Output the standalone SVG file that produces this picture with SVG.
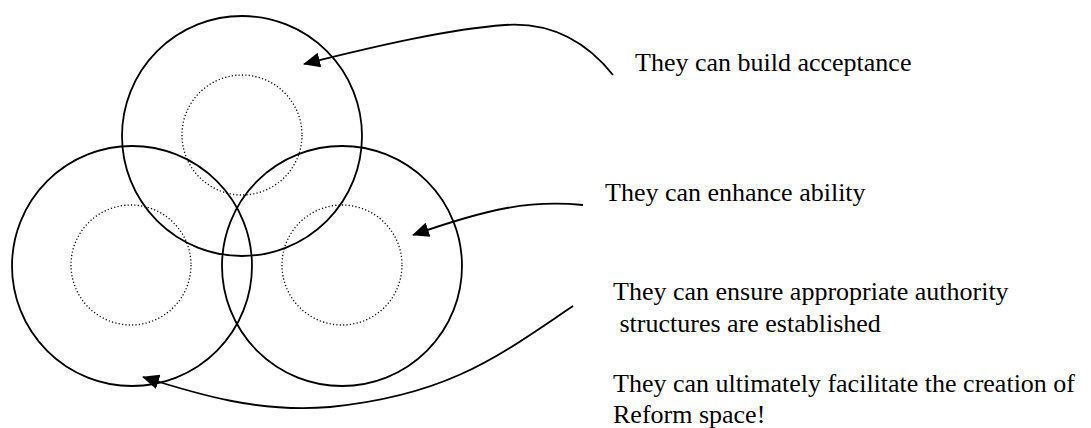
<svg xmlns="http://www.w3.org/2000/svg" width="1091" height="428" viewBox="0 0 1091 428">
<style>
.outer{fill:none;stroke:#000;stroke-width:1.8}
.inner{fill:none;stroke:#000;stroke-width:1.3;stroke-dasharray:1.2 2.2}
.conn{fill:none;stroke:#000;stroke-width:1.8}
text{font-family:"Liberation Serif","Times New Roman",serif;font-size:26px;fill:#000}
</style>
<defs>
<marker id="ah" markerUnits="userSpaceOnUse" markerWidth="18" markerHeight="16" refX="16" refY="7.5" orient="auto">
<path d="M0,0 L17,7.5 L0,15 z" fill="#000"/>
</marker>
</defs>
<rect width="1091" height="428" fill="#fff"/>
<g id="circle-top">
<circle class="outer" cx="242" cy="136" r="120"/>
<circle class="inner" cx="242" cy="135" r="60"/>
</g>
<g id="circle-left">
<circle class="outer" cx="132" cy="266" r="120"/>
<circle class="inner" cx="131" cy="265" r="60"/>
</g>
<g id="circle-right">
<circle class="outer" cx="342" cy="266" r="120"/>
<circle class="inner" cx="342" cy="265" r="60"/>
</g>
<g id="connectors">
<path class="conn" marker-end="url(#ah)" d="M613,75 C585,40 550,22 505,25 C450,29 380,45 304,64"/>
<path class="conn" marker-end="url(#ah)" d="M583,205 C530,200 490,208 413,235"/>
<path class="conn" marker-end="url(#ah)" d="M573,306 C500,355 450,395 330,407 C260,413 200,395 143,377"/>
</g>
<g id="label-acceptance"><text x="635" y="71">They can build acceptance</text></g>
<g id="label-ability"><text x="605" y="201">They can enhance ability</text></g>
<g id="label-authority"><text x="613" y="300">They can ensure appropriate authority</text><text x="613" y="332" xml:space="preserve"> structures are established</text></g>
<g id="label-reform"><text x="613" y="392">They can ultimately facilitate the creation of</text><text x="613" y="423">Reform space!</text></g>
</svg>
